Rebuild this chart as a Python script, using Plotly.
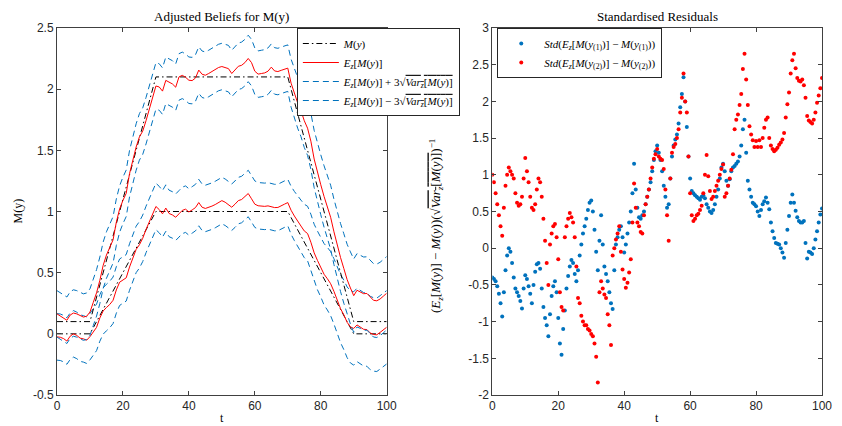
import numpy as np
import plotly.graph_objects as go

# ---------------- data: left panel ----------------
t = list(range(0, 101))
t_m = [0, 10, 30, 70, 90, 100]
m1 = [0, 0, 1, 1, 0, 0]
m2 = [0.1, 0.1, 2.1, 2.1, 0.1, 0.1]

e1 = [-0.025, -0.028, -0.039, -0.059, -0.019, 0.000, -0.013, -0.035, -0.041, -0.052,
      -0.023, 0.017, 0.053, 0.130, 0.187, 0.215, 0.240, 0.274, 0.359, 0.422,
      0.440, 0.458, 0.546, 0.626, 0.690, 0.728, 0.781, 0.853, 0.919, 0.983,
      1.041, 1.016, 0.981, 1.028, 0.984, 0.972, 0.953, 0.981, 1.009, 1.019,
      0.996, 1.013, 1.032, 1.073, 1.035, 1.025, 1.032, 1.044, 1.057, 1.076,
      1.089, 1.076, 1.054, 1.035, 1.060, 1.089, 1.098, 1.122, 1.147, 1.104,
      1.060, 1.047, 1.044, 1.042, 1.046, 1.038, 1.032, 1.033, 1.044, 1.060,
      1.073, 1.010, 0.963, 0.926, 0.881, 0.841, 0.820, 0.749, 0.662, 0.600,
      0.547, 0.487, 0.451, 0.410, 0.347, 0.271, 0.206, 0.155, 0.094, 0.057,
      0.044, 0.073, 0.051, 0.037, 0.035, 0.007, -0.005, -0.008, 0.012, 0.035,
      0.054]
e2 = [0.163, 0.147, 0.128, 0.111, 0.154, 0.170, 0.163, 0.147, 0.137, 0.144,
      0.178, 0.257, 0.335, 0.438, 0.560, 0.644, 0.706, 0.768, 0.913, 1.021,
      1.091, 1.149, 1.309, 1.425, 1.527, 1.610, 1.657, 1.742, 1.834, 1.930,
      2.026, 2.018, 1.984, 2.072, 2.060, 2.043, 2.016, 2.100, 2.113, 2.097,
      2.073, 2.070, 2.091, 2.156, 2.122, 2.114, 2.128, 2.144, 2.160, 2.177,
      2.185, 2.177, 2.168, 2.128, 2.160, 2.187, 2.195, 2.217, 2.251, 2.217,
      2.147, 2.123, 2.128, 2.133, 2.147, 2.180, 2.149, 2.144, 2.154, 2.163,
      2.172, 2.049, 1.964, 1.888, 1.824, 1.742, 1.681, 1.575, 1.429, 1.318,
      1.219, 1.123, 1.028, 0.953, 0.834, 0.723, 0.624, 0.534, 0.443, 0.375,
      0.312, 0.356, 0.345, 0.328, 0.330, 0.305, 0.274, 0.270, 0.285, 0.308,
      0.332]
# 3*sqrt(Var_z[M(y)])
band = [0.19] * 71 + [0.196, 0.201, 0.207, 0.212, 0.218, 0.223, 0.229, 0.234, 0.240, 0.245,
                      0.251, 0.256, 0.262, 0.267, 0.273, 0.278, 0.284, 0.289, 0.295, 0.300] + [0.30] * 10

# ---------------- data: right panel ----------------
t_r = [i * 0.5 for i in range(201)]
r1 = [-0.40, -0.42, -0.45, -0.52, -0.62, -0.75, -0.93, -0.60, -0.30, -0.10,
      0.00, -0.05, -0.20, -0.40, -0.55, -0.60, -0.65, -0.72, -0.82, -0.55,
      -0.37, -0.42, -0.52, -0.62, -0.75, -0.50, -0.32, -0.22, -0.20, -0.28,
      -0.55, -0.80, -0.95, -1.05, -1.20, -0.90, -0.65, -0.52, -0.45, -0.60,
      -0.95, -1.30, -1.45, -1.10, -0.85, -0.55, -0.38, -0.25, -0.16, -0.20,
      -0.35, -0.45, -0.30, -0.10, 0.05, 0.20, 0.30, 0.40, 0.52, 0.62,
      0.65, 0.50, 0.25, -0.05, -0.30, 0.10, 0.45, 0.05, -0.25, -0.35,
      -0.45, -0.60, -0.75, -0.83, -0.30, 0.05, 0.15, 0.25, 0.30, 0.15,
      -0.06, 0.05, 0.20, 0.35, 0.50, 0.75, 1.15, 0.80, 0.55, 0.42,
      0.40, 0.45, 0.50, 0.60, 0.70, 0.80, 0.90, 1.05, 1.20, 1.32,
      1.40, 1.30, 1.20, 1.05, 0.85, 0.70, 0.55, 0.60, 0.95, 1.25,
      1.40, 1.48, 1.55, 1.70, 1.92, 2.10, 2.33, 2.00, 1.65, 1.25,
      0.95, 0.78, 0.75, 0.72, 0.70, 0.68, 0.66, 0.70, 0.72, 0.68,
      0.60, 0.55, 0.50, 0.48, 0.52, 0.60, 0.70, 0.80, 0.95, 1.10,
      1.15, 1.05, 0.92, 0.85, 0.94, 1.05, 1.10, 1.12, 1.15, 1.18,
      1.25, 1.40, 1.62, 1.75, 1.30, 0.92, 0.80, 0.70, 0.62, 0.60,
      0.57, 0.50, 0.44, 0.52, 0.60, 0.64, 0.69, 0.62, 0.53, 0.35,
      0.23, 0.14, 0.07, 0.06, 0.05, 0.00, -0.06, -0.13, 0.07, 0.25,
      0.44, 0.62, 0.73, 0.62, 0.51, 0.42, 0.37, 0.35, 0.35, 0.37,
      0.07, -0.14, -0.05, -0.06, -0.08, 0.00, 0.12, 0.23, 0.35, 0.46,
      0.54]
r2 = [1.00, 0.90, 0.75, 0.60, 0.45, 0.30, 0.17, 0.55, 0.85, 1.00,
      1.10, 1.05, 1.00, 0.95, 0.75, 0.62, 0.58, 0.60, 0.70, 0.95,
      1.23, 1.05, 0.90, 0.70, 0.55, 0.52, 0.60, 0.80, 0.95, 0.90,
      0.70, 0.40, 0.10, -0.20, -0.50, 0.05, 0.20, 0.30, 0.33, 0.15,
      -0.15, -0.60, -0.80, -0.85, 0.15, 0.30, 0.40, 0.48, 0.42, 0.35,
      0.15, -0.25, -0.68, -0.75, -0.92, -1.00, -1.05, -1.05, -1.10, -1.12,
      -1.17, -1.20, -1.30, -1.48, -1.83, -0.60, -0.45, -0.55, -0.63, -0.68,
      -0.90, -1.05, -1.32, -0.10, 0.00, 0.12, 0.20, 0.30, -0.05, -0.29,
      -0.42, -0.54, -0.47, -0.33, -0.15, 0.35, 0.88, 0.55, 0.35, 0.30,
      0.22, 0.20, 0.45, 0.60, 0.70, 0.80, 0.95, 1.10, 1.22, 1.28,
      1.35, 1.25, 1.22, 1.20, 1.08, 0.80, 0.45, 0.10, 0.95, 1.30,
      1.38, 1.42, 1.50, 1.62, 1.85, 2.05, 2.38, 2.00, 1.85, 1.25,
      0.75, 0.45, 0.37, 0.40, 0.45, 0.47, 0.52, 0.58, 0.75, 1.00,
      1.27, 0.98, 0.78, 0.67, 0.70, 0.78, 0.85, 0.92, 1.00, 1.08,
      1.14, 0.70, 0.75, 0.85, 0.95, 1.07, 1.28, 1.62, 1.75, 1.82,
      1.95, 2.10, 2.44, 2.65, 2.30, 1.95, 1.66, 1.55, 1.47, 1.38,
      1.46, 1.38, 1.47, 1.38, 1.50, 1.64, 1.75, 1.78, 1.50, 1.40,
      1.35, 1.32, 1.34, 1.37, 1.41, 1.44, 1.48, 1.57, 1.78, 1.96,
      2.12, 2.38, 2.56, 2.65, 2.45, 2.32, 2.28, 2.27, 2.30, 2.22,
      2.05, 1.80, 1.74, 1.72, 1.70, 1.75, 1.85, 1.98, 2.08, 2.18,
      2.32]

x_ticks = [0, 20, 40, 60, 80, 100]
x_ticktext = ["0", "20", "40", "60", "80", "100"]
y1_ticks = [-0.5, 0, 0.5, 1, 1.5, 2, 2.5]
y1_ticktext = ["-0.5", "0", "0.5", "1", "1.5", "2", "2.5"]
y2_ticks = [-2, -1.5, -1, -0.5, 0, 0.5, 1, 1.5, 2, 2.5, 3]
y2_ticktext = ["-2", "-1.5", "-1", "-0.5", "0", "0.5", "1", "1.5", "2", "2.5", "3"]

# ---------------- figure ----------------
BLACK = "#000000"
RED = "#FF0000"
BLUE = "#0072BD"
DASHDOT = "6px,3px,1.5px,3px"
DASH = "6px,4px"

b = np.array(band)
fig = go.Figure()

series = [(m1, np.array(e1)), (m2, np.array(e2))]
for k, (m, e) in enumerate(series):
    first = (k == 0)
    fig.add_trace(go.Scatter(x=t_m, y=m, mode="lines", line=dict(color=BLACK, width=1, dash=DASHDOT),
                             name="<i>M</i>(<i>y</i>)", showlegend=first, legendrank=1,
                             xaxis="x", yaxis="y"))
    fig.add_trace(go.Scatter(x=t, y=e, mode="lines", line=dict(color=RED, width=1),
                             name="<i>E<sub>z</sub></i>[<i>M</i>(<i>y</i>)]", showlegend=first, legendrank=2,
                             xaxis="x", yaxis="y"))
    fig.add_trace(go.Scatter(x=t, y=e + b, mode="lines", line=dict(color=BLUE, width=1, dash=DASH),
                             name="<i>E<sub>z</sub></i>[<i>M</i>(<i>y</i>)] + 3√<span style='text-decoration:overline'><i>Var<sub>z</sub></i>[<i>M</i>(<i>y</i>)]</span>",
                             showlegend=first, legendrank=3, xaxis="x", yaxis="y"))
    fig.add_trace(go.Scatter(x=t, y=e - b, mode="lines", line=dict(color=BLUE, width=1, dash=DASH),
                             name="<i>E<sub>z</sub></i>[<i>M</i>(<i>y</i>)] − 3√<span style='text-decoration:overline'><i>Var<sub>z</sub></i>[<i>M</i>(<i>y</i>)]</span>",
                             showlegend=first, legendrank=4, xaxis="x", yaxis="y"))

fig.add_trace(go.Scatter(x=t_r, y=r1, mode="markers", marker=dict(color=BLUE, size=4),
                         name="<i>Std</i>(<i>E<sub>z</sub></i>[<i>M</i>(<i>y</i><sub>(1)</sub>)] − <i>M</i>(<i>y</i><sub>(1)</sub>))",
                         legend="legend2", xaxis="x2", yaxis="y2"))
fig.add_trace(go.Scatter(x=t_r, y=r2, mode="markers", marker=dict(color=RED, size=4),
                         name="<i>Std</i>(<i>E<sub>z</sub></i>[<i>M</i>(<i>y</i><sub>(2)</sub>)] − <i>M</i>(<i>y</i><sub>(2)</sub>))",
                         legend="legend2", xaxis="x2", yaxis="y2"))

axis_common = dict(showline=True, linecolor="#404040", linewidth=1, mirror="ticks",
                   ticks="inside", ticklen=4, tickcolor="#404040", tickwidth=1,
                   showgrid=False, zeroline=False,
                   tickfont=dict(family="Liberation Sans, Arial, sans-serif", size=12, color="#262626"))

W, H = 842, 426
L, R, T, B = 57, 10, 28, 31
pw, ph = W - L - R, H - T - B

def px_x(p):
    return (p - L) / pw

def px_y(p):
    return (H - B - p) / ph

legend_font = dict(family="Liberation Serif, serif", size=11, color="black")
fig.update_layout(
    width=W, height=H, margin=dict(l=L, r=R, t=T, b=B),
    paper_bgcolor="white", plot_bgcolor="white",
    xaxis=dict(domain=[0, px_x(391)], range=[0, 100], tickvals=x_ticks, ticktext=x_ticktext,
               anchor="y", **axis_common),
    yaxis=dict(domain=[0, 1], range=[-0.5, 2.5], tickvals=y1_ticks, ticktext=y1_ticktext,
               anchor="x", **axis_common),
    xaxis2=dict(domain=[px_x(498), 1], range=[0, 100], tickvals=x_ticks, ticktext=x_ticktext,
                anchor="y2", **axis_common),
    yaxis2=dict(domain=[0, 1], range=[-2, 3], tickvals=y2_ticks, ticktext=y2_ticktext,
                anchor="x2", **axis_common),
    legend=dict(x=px_x(300), y=1, xanchor="left", yanchor="top", bgcolor="white",
                bordercolor="#262626", borderwidth=1, tracegroupgap=0, itemwidth=36,
                font=legend_font),
    legend2=dict(x=px_x(503), y=1, xanchor="left", yanchor="top", bgcolor="white",
                 bordercolor="#262626", borderwidth=1, tracegroupgap=0, itemwidth=36,
                 font=legend_font),
    showlegend=True,
)

serif = "Liberation Serif, serif"
annots = [
    dict(text="Adjusted Beliefs for M(y)", x=px_x(224), y=px_y(17), font=dict(family=serif, size=13, color="black")),
    dict(text="Standardised Residuals", x=px_x(665), y=px_y(17), font=dict(family=serif, size=13, color="black")),
    dict(text="t", x=px_x(224), y=px_y(418), font=dict(family=serif, size=12, color="black")),
    dict(text="t", x=px_x(665), y=px_y(418), font=dict(family=serif, size=12, color="black")),
    dict(text="M(y)", x=px_x(17), y=px_y(211), textangle=-90, font=dict(family=serif, size=12, color="black")),
    dict(text="(<i>E<sub>z</sub></i>[<i>M</i>(<i>y</i>)] − <i>M</i>(<i>y</i>))(√<span style='text-decoration:overline'><i>Var<sub>z</sub></i>[<i>M</i>(<i>y</i>)]</span>)<sup>−1</sup>",
         x=px_x(441), y=px_y(226), textangle=-90, font=dict(family=serif, size=13, color="black")),
]
for a in annots:
    a.update(xref="paper", yref="paper", showarrow=False, xanchor="center", yanchor="middle")
    fig.add_annotation(**a)

fig.write_html("out.html")
